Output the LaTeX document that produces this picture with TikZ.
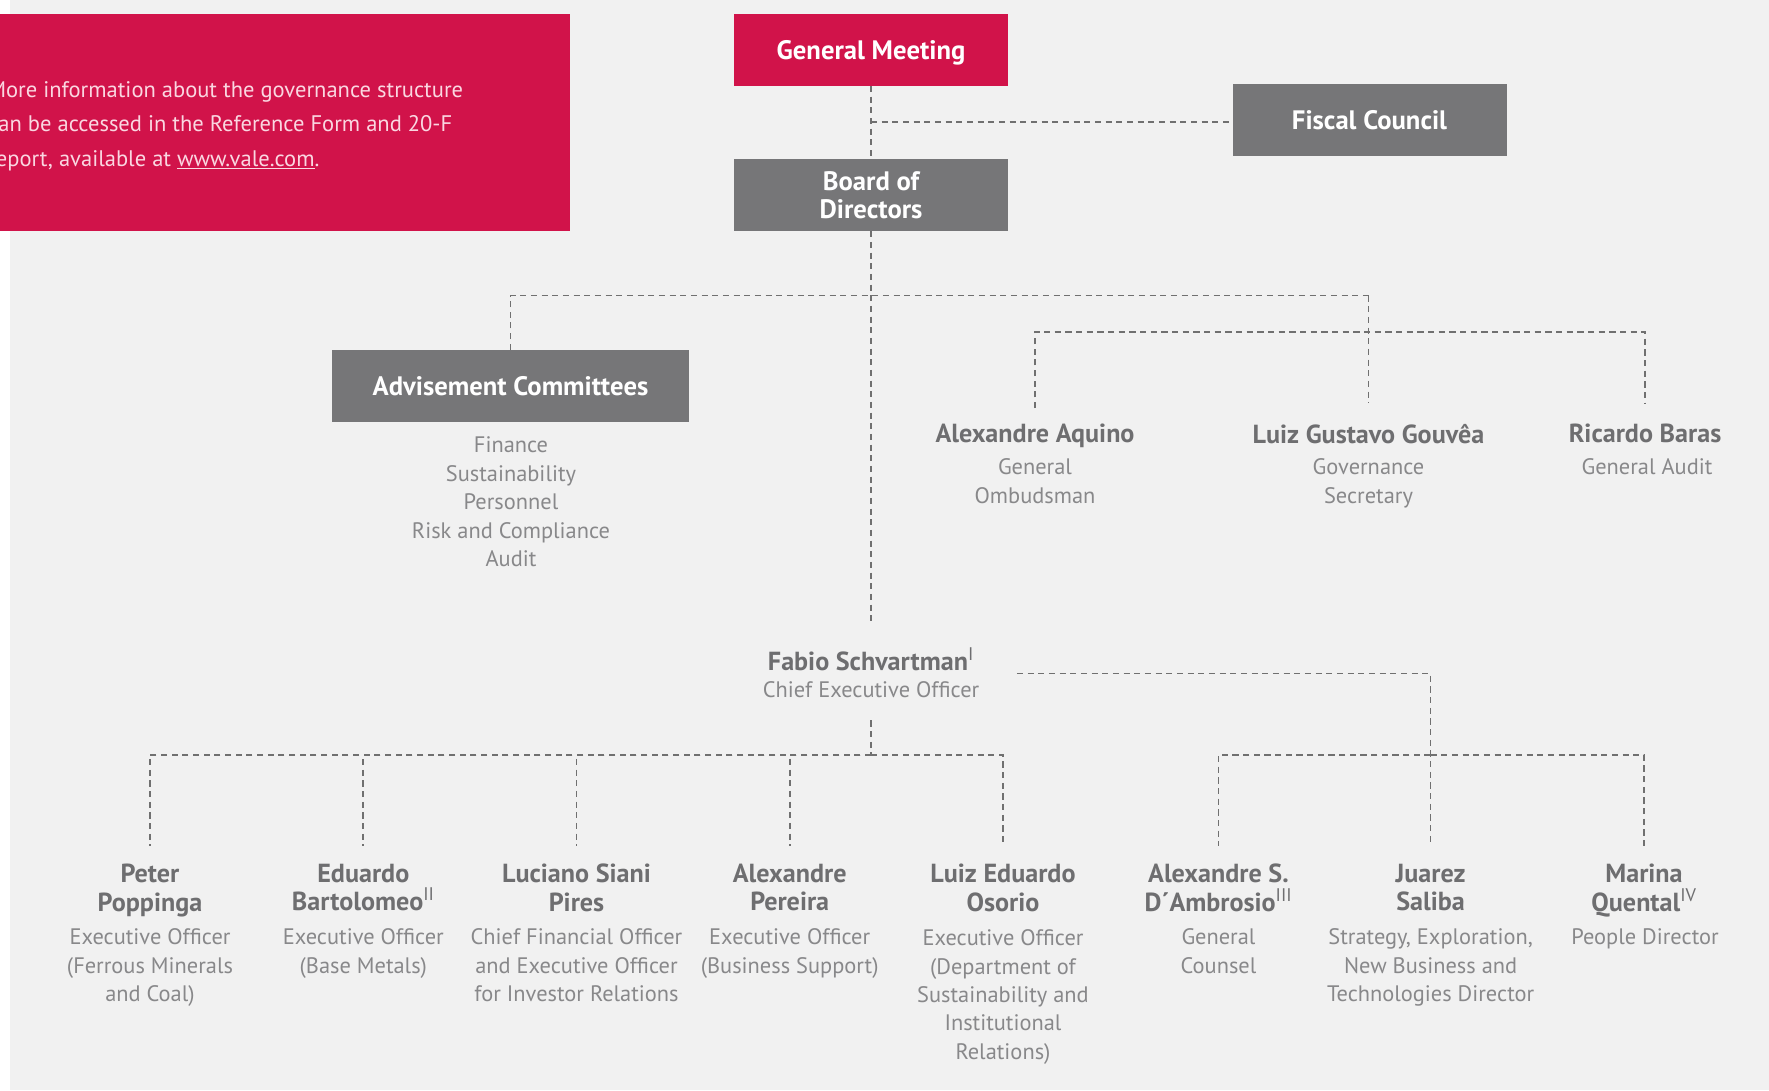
\documentclass[tikz,border=0pt]{standalone}
\usepackage{fontspec}
\setmainfont{PT Sans}
\definecolor{bggray}{RGB}{241,241,241}
\definecolor{valered}{RGB}{209,19,74}
\definecolor{boxgray}{RGB}{118,118,120}
\definecolor{namecol}{RGB}{110,110,112}
\definecolor{desccol}{RGB}{136,136,138}
\definecolor{linecol}{RGB}{112,112,112}
\definecolor{redtext}{RGB}{250,215,225}
\tikzset{
 conn/.style={draw=linecol, line width=1.25pt, dash pattern=on 4.6pt off 3.4pt},
 box/.style={rectangle, inner sep=0pt, minimum width=205.5pt, minimum height=54pt, text=white, align=center, font=\bfseries\fontsize{20}{21.2}\selectfont},
 nm/.style={inner sep=0pt, anchor=north, align=center, text=namecol, font=\bfseries\fontsize{19.6}{21.2}\selectfont},
 ds/.style={inner sep=0pt, anchor=north, align=center, text=desccol, font=\fontsize{16.8}{21.2}\selectfont},
}
\newcommand{\rsup}[1]{\textsuperscript{\mdseries #1}}
\begin{document}
\begin{tikzpicture}[x=0.75pt,y=-0.75pt]
\useasboundingbox (0,0) rectangle (1769,1090);
\fill[white] (0,0) rectangle (1769,1090);
\fill[bggray] (10,0) rectangle (1769,1090);

% info box
\node[rectangle, fill=valered, inner sep=0pt, minimum width=427.5pt, minimum height=163.1pt] (infobox) at (285,122.25) {};
\node[anchor=north west, inner sep=0pt, align=left, text=redtext, font=\fontsize{16.9}{25.8}\selectfont] (info) at (-12,81)
 {More information about the governance structure\\can be accessed in the Reference Form and 20-F\\report, available at \underline{www.vale.com}.};

% main boxes
\node[box, fill=valered, text depth=0pt] (GM) at (871,49.75) {General Meeting};
\node[box, fill=boxgray] (BD) at (871,195) {Board of\\Directors};
\node[box, fill=boxgray, text depth=0pt] (FC) at (1369.5,119.6) {Fiscal Council};
\node[box, fill=boxgray, minimum width=267.75pt, text depth=0pt] (AC) at (510.5,386) {Advisement Committees};
\node[ds, font=\fontsize{16.8}{21.4}\selectfont] (ACl) at (511,436.6) {Finance\\Sustainability\\Personnel\\Risk and Compliance\\Audit};

% upper staff
\node[nm] (aq) at (1035,424) {Alexandre Aquino};
\node[ds, font=\fontsize{16.8}{21.75}\selectfont] (aqd) at (1035,458) {General\\Ombudsman};
\node[nm] (gv) at (1368.5,424) {Luiz Gustavo Gouvêa};
\node[ds, font=\fontsize{16.8}{21.75}\selectfont] (gvd) at (1368.5,458) {Governance\\Secretary};
\node[nm] (rb) at (1645,424) {Ricardo Baras};
\node[ds] (rbd) at (1647,458) {General Audit};

% CEO
\node[inner sep=0pt, align=center, font=\fontsize{16.8}{20.3}\selectfont] (ceo) at (871,672.4)
 {{\color{namecol}\bfseries\fontsize{19.6}{21.2}\selectfont Fabio Schvartman\rsup{I}}\\{\color{desccol}Chief Executive Officer}};

% executives
\node[nm] (p1) at (150,864) {Peter\\Poppinga};
\node[ds] (p1d) at (150,928.6) {Executive Officer\\(Ferrous Minerals\\and Coal)};
\node[nm] (p2) at (363.3,864) {Eduardo\\Bartolomeo\rsup{II}};
\node[ds] (p2d) at (363.3,928.6) {Executive Officer\\(Base Metals)};
\node[nm] (p3) at (576.5,864) {Luciano Siani\\Pires};
\node[ds] (p3d) at (576.5,928.6) {Chief Financial Officer\\and Executive Officer\\for Investor Relations};
\node[nm] (p4) at (789.7,864) {Alexandre\\Pereira};
\node[ds] (p4d) at (789.7,928.6) {Executive Officer\\(Business Support)};
\node[nm] (p5) at (1003,864) {Luiz Eduardo\\Osorio};
\node[ds] (p5d) at (1003,929.7) {Executive Officer\\(Department of\\Sustainability and\\Institutional\\Relations)};
\node[nm] (p6) at (1218.5,864) {Alexandre S.\\D´Ambrosio\rsup{III}};
\node[ds] (p6d) at (1218.5,928.6) {General\\Counsel};
\node[nm] (p7) at (1430.6,864) {Juarez\\Saliba};
\node[ds] (p7d) at (1430.6,928.6) {Strategy, Exploration,\\New Business and\\Technologies Director};
\node[nm] (p8) at (1644,864) {Marina\\Quental\rsup{IV}};
\node[ds] (p8d) at (1645,928.6) {People Director};

% junction coordinates
\coordinate (jF) at (871,122);
\coordinate (jG) at (1368.5,295.5);
\coordinate (jS) at (1368.5,331.7);
\coordinate (jL) at (871,754.8);
\coordinate (jR) at (1430.6,754.8);
\coordinate (jC) at (871,673.5);

% connectors
\draw[conn] (GM.south) -- (BD.north);
\draw[conn] (jF) -- (jF -| FC.west);
\draw[conn, shorten >=17.5pt] (BD.south) -- (ceo.north);
\draw[conn] (AC.north) |- (jG);
\draw[conn, shorten >=15.75pt] (jG) -- (gv.north);
\draw[conn, shorten <=12pt, shorten >=15pt] (aq.north) |- (jS) -| (rb.north);
\draw[conn, shorten <=17pt] (ceo.south) -- (jL);
\foreach \p in {p1,p2,p3,p4,p5} \draw[conn, shorten >=13.5pt] (jL) -| (\p.north);
\draw[conn, shorten <=28pt, shorten >=13.5pt] (jC -| ceo.east) -| (p7.north);
\foreach \p in {p6,p8} \draw[conn, shorten >=13.5pt] (jR) -| (\p.north);
\end{tikzpicture}
\end{document}
